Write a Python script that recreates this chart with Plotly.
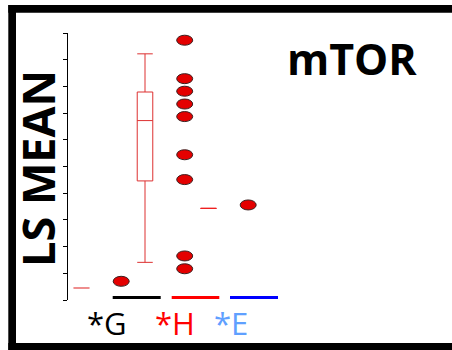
import plotly.graph_objects as go

# ---- data (arbitrary LS-mean units, axis 0..10) ----
groups = ["G", "H", "E"]
group_labels = ["*G", "*H", "*E"]
label_colors = ["#000000", "#ff0000", "#5fa0ff"]

# box summaries per group
box_q1 = [0.45, 4.46, 3.43]
box_median = [0.45, 6.72, 3.43]
box_q3 = [0.45, 7.79, 3.43]
box_lower = [0.45, 1.41, 3.43]
box_upper = [0.45, 9.22, 3.43]
box_colors = ["#ee8a8a", "#dd3030", "#ee2020"]

# individual points per group
g_points = [0.70]
h_points = [9.73, 8.29, 7.82, 7.34, 6.87, 5.44, 4.51, 1.65, 1.17]
e_points = [3.56]
points = [g_points, h_points, e_points]

# ---- layout geometry ----
W, H = 452, 350
L, R, T, B = 68, 0, 33, 50
pw, ph = W - L - R, H - T - B
px_per_unit = 63.5
xmin = -(81.5 - L) / px_per_unit
xmax = xmin + pw / px_per_unit
ymin, ymax = 0, 10
point_offset = 0.625


def px2paper_x(p):
    return (p - L) / pw


def px2paper_y(p):
    return (H - B - p) / ph


fig = go.Figure()

for i, g in enumerate(groups):
    fig.add_trace(go.Box(
        x=[i], q1=[box_q1[i]], median=[box_median[i]], q3=[box_q3[i]],
        lowerfence=[box_lower[i]], upperfence=[box_upper[i]],
        width=0.245, whiskerwidth=1, boxpoints=False,
        line=dict(color=box_colors[i], width=1),
        fillcolor="rgba(0,0,0,0)", name=g, showlegend=False,
        hoverinfo="skip",
    ))

shapes = []
ex = 16 / px_per_unit / 2
ey = 10 / (ph / (ymax - ymin)) / 2
for i, vals in enumerate(points):
    xs = [i + point_offset] * len(vals)
    fig.add_trace(go.Scatter(
        x=xs, y=vals, mode="markers",
        marker=dict(size=10, color="rgba(0,0,0,0)"),
        name=groups[i], showlegend=False,
    ))
    for x, v in zip(xs, vals):
        shapes.append(dict(type="circle", xref="x", yref="y",
                           x0=x - ex, x1=x + ex, y0=v - ey, y1=v + ey,
                           fillcolor="#e40000",
                           line=dict(color="#3a2020", width=1), layer="above"))

# coloured bars under the groups
bar_px = [(112.7, 160.7, "#000000"), (171.7, 219.3, "#ff0000"), (230.0, 278.0, "#0000ff")]
for x0, x1, c in bar_px:
    shapes.append(dict(type="line", xref="paper", yref="paper",
                       x0=px2paper_x(x0), x1=px2paper_x(x1),
                       y0=px2paper_y(297.5), y1=px2paper_y(297.5),
                       line=dict(color=c, width=3)))

# outer black frame (top, left, bottom)
shapes.append(dict(type="rect", xref="paper", yref="paper", line=dict(width=0),
                   fillcolor="black",
                   x0=px2paper_x(8.3), x1=px2paper_x(W), y0=px2paper_y(5), y1=px2paper_y(12.7)))
shapes.append(dict(type="rect", xref="paper", yref="paper", line=dict(width=0),
                   fillcolor="black",
                   x0=px2paper_x(8.3), x1=px2paper_x(16), y0=px2paper_y(5), y1=px2paper_y(H)))
shapes.append(dict(type="rect", xref="paper", yref="paper", line=dict(width=0),
                   fillcolor="black",
                   x0=px2paper_x(8.3), x1=px2paper_x(W), y0=px2paper_y(343), y1=px2paper_y(H)))

annotations = []
label_cx = [106.6, 174.5, 231.0]
for lab, c, cx in zip(group_labels, label_colors, label_cx):
    annotations.append(dict(text=lab, xref="paper", yref="paper",
                            x=px2paper_x(cx), y=px2paper_y(322.5),
                            xanchor="center", yanchor="middle", showarrow=False,
                            font=dict(family="Open Sans", size=31, color=c)))

annotations.append(dict(text="<b>mTOR</b>", xref="paper", yref="paper",
                        x=px2paper_x(352.4), y=px2paper_y(58),
                        xanchor="center", yanchor="middle", showarrow=False,
                        font=dict(family="Open Sans", size=43, color="black")))

annotations.append(dict(text="<b>LS MEAN</b>", xref="paper", yref="paper",
                        x=px2paper_x(37), y=px2paper_y(169),
                        xanchor="center", yanchor="middle", showarrow=False,
                        textangle=-90,
                        font=dict(family="Open Sans", size=45, color="black")))

fig.update_layout(
    width=W, height=H,
    margin=dict(l=L, r=R, t=T, b=B),
    paper_bgcolor="white", plot_bgcolor="white",
    shapes=shapes, annotations=annotations,
    showlegend=False,
    xaxis=dict(range=[xmin, xmax], visible=False, showgrid=False, zeroline=False),
    yaxis=dict(range=[ymin, ymax], dtick=1, tick0=0, showticklabels=False,
               ticks="outside", ticklen=4, tickwidth=1, tickcolor="black",
               showline=True, linecolor="black", linewidth=1,
               showgrid=False, zeroline=False),
)

fig.write_html(
    "out.html",
    config={"displayModeBar": False},
    post_script="document.body.style.margin='0';document.body.style.padding='0';"
                "document.body.style.overflow='hidden';",
)
